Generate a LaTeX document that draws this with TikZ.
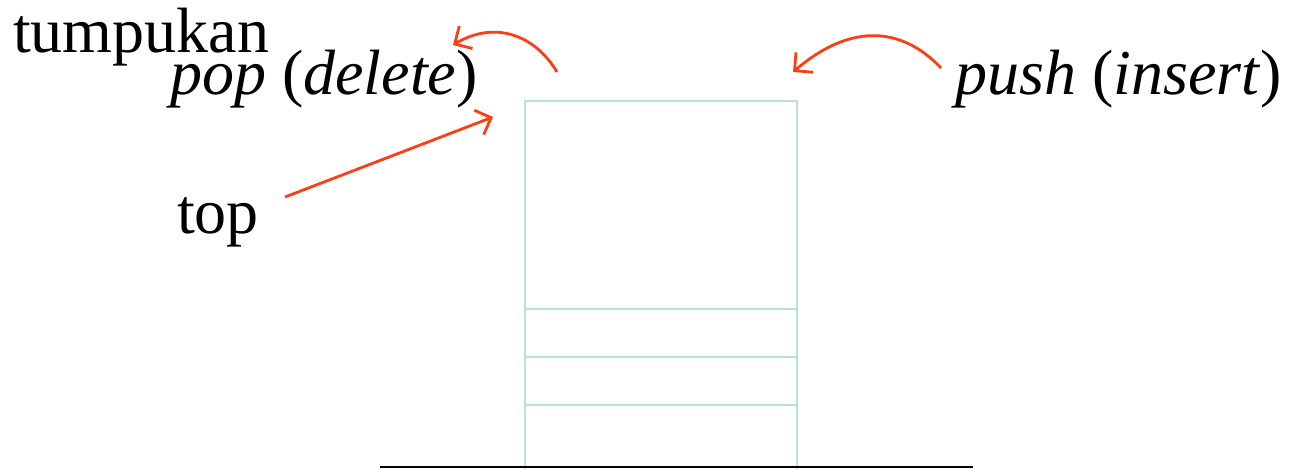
\documentclass[tikz,border=0pt]{standalone}
\usepackage{fontspec}
\setmainfont{Liberation Serif}
\usepackage{xcolor}
\usetikzlibrary{arrows.meta}
\definecolor{cRed}{HTML}{FF3D12}
\definecolor{cSlot}{HTML}{BADFE2}
\definecolor{cInk}{HTML}{000000}
\tikzset{
  >={Straight Barb[length=13pt,width=26pt]},
  lbl/.style   ={inner sep=0pt,anchor=base west,text=cInk,
                 font=\fontsize{64}{72}\selectfont},
  slot/.style  ={draw=cSlot,line width=2pt},
  ar/.style    ={->,cRed,line width=2.8pt},
  floor/.style ={draw=cInk,line width=2pt},
}

\begin{document}
\begin{tikzpicture}[x=1pt,y=-1pt]
\useasboundingbox (0,0) rectangle (1289,469);

% labels
\node[lbl] (title) at (13,52)  {tumpukan};
\node[lbl] (pop)   at (170,94) {\textit{pop} (\textit{delete})};
\node[lbl] (push)  at (955,94) {\textit{push} (\textit{insert})};
\node[lbl] (top)   at (177,233) {top};

% stack frame and slots
\draw[slot] (525,469) -- (525,101) -- (797,101) -- (797,469);
\foreach \y in {309,357,405}
  \draw[slot] (525,\y) -- (797,\y);
\draw[floor] (380,467) -- (973,467);

% arrow ends
\coordinate (popTail)  at (557,72);
\coordinate (popHead)  at (453,45);
\coordinate (pushTail) at (941,68);
\coordinate (pushHead) at (793,72);
\coordinate (topTail)  at (285,197);
\coordinate (topHead)  at (493,117);

\draw[ar] (popTail) .. controls (535,35) and (495,20) .. (popHead);
\draw[ar] (pushTail) .. controls (910,35) and (860,15) .. (pushHead);
\draw[ar] (topTail) -- (topHead);
\end{tikzpicture}
\end{document}
